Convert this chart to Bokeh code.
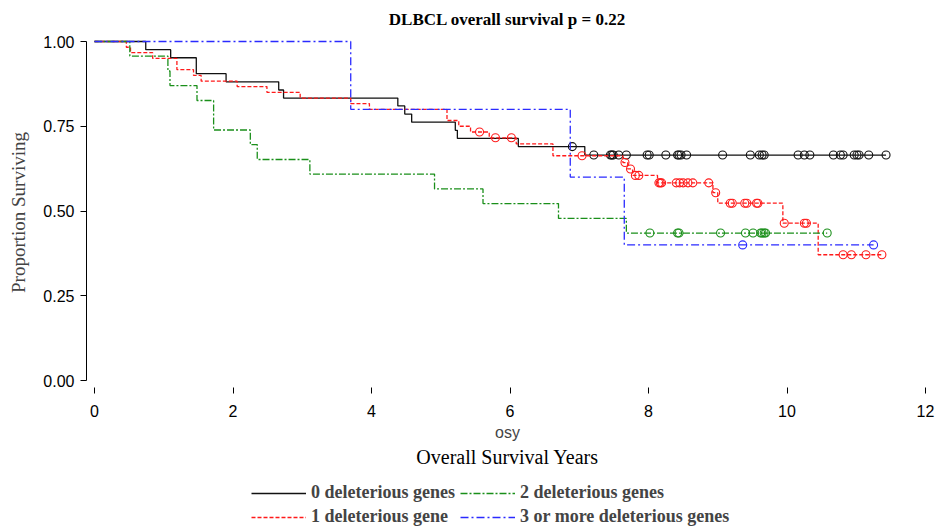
from bokeh.plotting import figure
from bokeh.layouts import column
from bokeh.models import Legend, LegendItem, FixedTicker, Title, Range1d, NumeralTickFormatter
from bokeh.embed import file_html
from bokeh.resources import INLINE

# ---------------- data ----------------
group_labels = ["0 deleterious genes", "1 deleterious gene",
                "2 deleterious genes", "3 or more deleterious genes"]
group_colors = ["#111111", "#ff1a1a", "#1a8f1a", "#2a2aff"]
group_dash = ["solid", "4 2", "7 2 2 2", "8 3 2 3"]

# group 0: event times / survival after event / censor times
g0_event_t = [0.74, 1.10, 1.47, 1.90, 2.66, 2.73, 4.38, 4.48, 4.58, 5.21, 5.24, 6.12, 7.08]
g0_event_s = [0.976, 0.952, 0.905, 0.881, 0.857, 0.833, 0.810, 0.786, 0.762, 0.738, 0.714, 0.690, 0.665]
g0_censor_t = [6.90, 7.21, 7.45, 7.47, 7.49, 7.57, 7.68, 7.98, 8.01, 8.25, 8.42, 8.44, 8.47,
               8.55, 9.07, 9.47, 9.60, 9.64, 9.67, 10.16, 10.25, 10.33, 10.67, 10.77, 10.81,
               10.97, 11.01, 11.04, 11.18, 11.43]

# group 1
g1_event_t = [0.46, 0.52, 0.84, 1.19, 1.43, 1.54, 2.06, 2.49, 2.97, 3.70, 3.97, 5.09, 5.26,
              5.43, 5.70, 6.09, 6.62, 7.63, 7.70, 7.77, 8.13, 8.93, 9.00, 9.94, 10.45]
g1_event_s = [0.983, 0.967, 0.950, 0.917, 0.900, 0.883, 0.867, 0.850, 0.833, 0.817, 0.800,
              0.767, 0.750, 0.733, 0.716, 0.698, 0.663, 0.643, 0.624, 0.605, 0.583, 0.554,
              0.523, 0.464, 0.371]
g1_censor_t = [5.56, 5.79, 6.02, 7.04, 7.66, 7.74, 7.81, 7.86, 8.15, 8.17, 8.19, 8.40, 8.45,
               8.50, 8.57, 8.64, 8.87, 8.97, 9.18, 9.21, 9.39, 9.42, 9.56, 9.58, 9.96, 10.25,
               10.28, 10.81, 10.93, 11.14, 11.37]

# group 2
g2_event_t = [0.51, 1.06, 1.09, 1.48, 1.72, 2.25, 2.35, 3.11, 4.91, 5.61, 6.70, 7.68]
g2_event_s = [0.957, 0.913, 0.870, 0.826, 0.739, 0.696, 0.652, 0.609, 0.565, 0.522, 0.478, 0.435]
g2_censor_t = [8.02, 8.42, 8.44, 9.04, 9.40, 9.51, 9.62, 9.64, 9.67, 9.69, 10.58]

# group 3
g3_event_t = [3.70, 6.87, 7.65]
g3_event_s = [0.80, 0.60, 0.40]
g3_censor_t = [9.36, 11.25]

x_ticks = [0, 2, 4, 6, 8, 10, 12]
y_ticks = [0.0, 0.25, 0.50, 0.75, 1.0]

title_text = "DLBCL overall survival p = 0.22"
x_label = "osy"
x_title = "Overall Survival Years"
y_label = "Proportion Surviving"


def km_steps(et, es, ct):
    xs, ys, cur = [0.0], [1.0], 1.0
    for t, s in zip(et, es):
        xs += [t, t]
        ys += [cur, s]
        cur = s
    end = max(list(et) + list(ct))
    xs.append(end)
    ys.append(cur)
    return xs, ys


def surv_at(t, et, es):
    s = 1.0
    for a, b in zip(et, es):
        if a <= t:
            s = b
    return s


FIG_W = 937
p = figure(width=FIG_W, height=473, output_backend="svg", toolbar_location=None,
           x_range=Range1d(-0.1155, 12.043), y_range=Range1d(-0.0206, 1.0118),
           min_border_left=86, min_border_right=9, min_border_top=37, min_border_bottom=86)

p.title.text = title_text
p.title.align = "center"
p.title.vertical_align = "top"
p.title.text_font = "Liberation Serif"
p.title.text_font_size = "17px"
p.title.text_font_style = "bold"
p.title.text_color = "black"
p.title.standoff = 14

p.grid.visible = False
p.outline_line_color = None
p.background_fill_color = "white"
p.border_fill_color = "white"

# axes
p.xaxis.ticker = FixedTicker(ticks=x_ticks)
p.xaxis.axis_line_color = None
p.xaxis.major_tick_out = 6
p.xaxis.major_tick_in = 0
p.xaxis.minor_tick_line_color = None
p.xaxis.major_tick_line_color = "black"
p.xaxis.major_label_text_font = "Liberation Sans"
p.xaxis.major_label_text_font_size = "16px"
p.xaxis.major_label_text_color = "black"
p.xaxis.major_label_standoff = 11
p.xaxis.axis_label = x_label
p.xaxis.axis_label_text_font = "Liberation Sans"
p.xaxis.axis_label_text_font_size = "16px"
p.xaxis.axis_label_text_font_style = "normal"
p.xaxis.axis_label_standoff = 4

p.yaxis.ticker = FixedTicker(ticks=y_ticks)
p.yaxis.formatter = NumeralTickFormatter(format="0.00")
p.yaxis.bounds = (0, 1)
p.yaxis.axis_line_color = "black"
p.yaxis.major_tick_out = 6
p.yaxis.major_tick_in = 0
p.yaxis.minor_tick_line_color = None
p.yaxis.major_label_text_font = "Liberation Sans"
p.yaxis.major_label_text_font_size = "16px"
p.yaxis.major_label_text_color = "black"
p.yaxis.major_label_standoff = 6
p.yaxis.axis_label = y_label
p.yaxis.axis_label_text_font = "Liberation Serif"
p.yaxis.axis_label_text_font_size = "19px"
p.yaxis.axis_label_text_font_style = "normal"
p.yaxis.axis_label_standoff = 11

groups = [
    (g0_event_t, g0_event_s, g0_censor_t),
    (g1_event_t, g1_event_s, g1_censor_t),
    (g2_event_t, g2_event_s, g2_censor_t),
    (g3_event_t, g3_event_s, g3_censor_t),
]

curves = []
for i, (et, es, ct) in enumerate(groups):
    xs, ys = km_steps(et, es, ct)
    curves.append((xs, ys))
    p.line(xs, ys, line_color=group_colors[i], line_width=1.3, line_dash=group_dash[i])
    cy = [surv_at(t, et, es) for t in ct]
    p.scatter(ct, cy, marker="circle", size=8, fill_color=None,
              line_color=group_colors[i], line_width=1.1)

p.add_layout(Title(text=x_title, align="center", text_font="Liberation Serif",
                   text_font_size="20px", text_font_style="normal",
                   text_color="black", standoff=0), "below")

# ---------------- legend strip (separate small figure below) ----------------
LEG_H = 54
q = figure(width=FIG_W, height=LEG_H, output_backend="svg", toolbar_location=None,
           x_range=Range1d(0, FIG_W), y_range=Range1d(0, LEG_H),
           min_border_left=0, min_border_right=0, min_border_top=0, min_border_bottom=0)
q.axis.visible = False
q.grid.visible = False
q.outline_line_color = None
q.border_fill_color = "white"
# the legend's own copies of the curves live on a range that keeps them out of view
q.extra_y_ranges = {"offview": Range1d(100, 200)}

leg_renderers = [q.line(curves[i][0], curves[i][1], line_color=group_colors[i],
                        line_width=1.3, line_dash=group_dash[i], y_range_name="offview")
                 for i in range(4)]
items = [LegendItem(label=group_labels[i], renderers=[leg_renderers[i]]) for i in range(4)]
legend_style = dict(orientation="horizontal", glyph_width=55, glyph_height=18,
                    label_standoff=5, spacing=5, margin=0, padding=0,
                    border_line_color=None, background_fill_alpha=0, label_width=144,
                    label_text_font="Liberation Serif", label_text_font_size="18px",
                    label_text_font_style="bold", label_height=18)
legend1 = Legend(items=[items[0], items[2]], location=(165, 24), **legend_style)
legend2 = Legend(items=[items[1], items[3]], location=(165, 0), **legend_style)
q.add_layout(legend1, "center")
q.add_layout(legend2, "center")

layout = column(p, q, spacing=0)
open("out.html", "w").write(file_html(layout, INLINE))
